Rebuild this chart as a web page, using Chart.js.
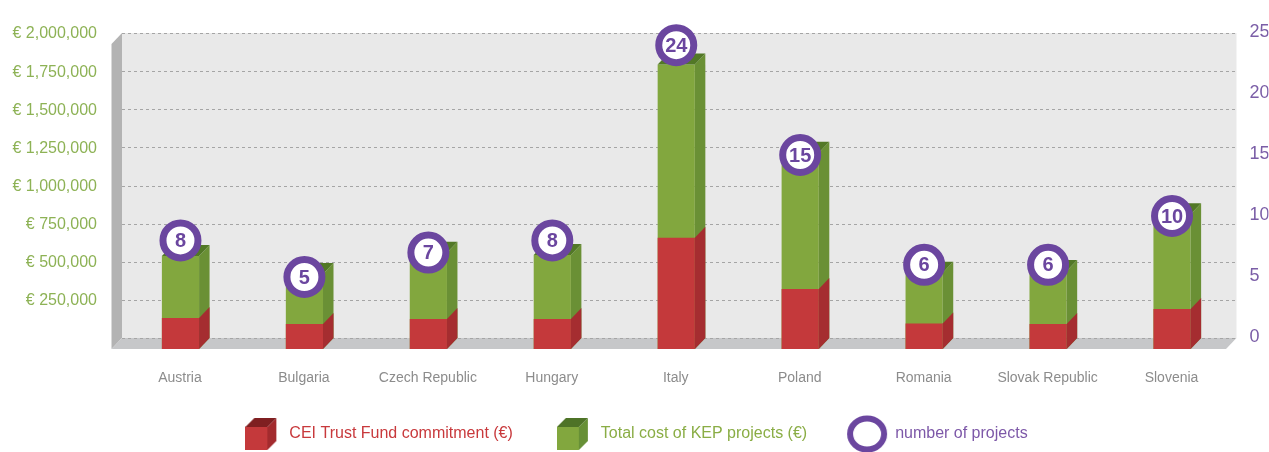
<!DOCTYPE html>
<html lang="en">
<head>
<meta charset="UTF-8">
<title>KEP projects by country</title>
<style>
    body { margin: 0; background: #fff; }
    canvas { display: block; }
</style>
<script src="https://cdn.jsdelivr.net/npm/chart.js"></script>
</head>
<body>
<canvas id="chart" width="1269" height="452"></canvas>
<script>
const countries = ['Austria', 'Bulgaria', 'Czech Republic', 'Hungary', 'Italy', 'Poland', 'Romania', 'Slovak Republic', 'Slovenia'];
const ceiCommitment = [203000, 164000, 197000, 197000, 730000, 393000, 168000, 164000, 262000];
const totalCost = [610000, 492000, 631000, 616000, 1865000, 1287000, 500000, 511000, 883000];
const projectCount = [8, 5, 7, 8, 24, 15, 6, 6, 10];
const legendNames = ['CEI Trust Fund commitment (€)', 'Total cost of KEP projects (€)', 'number of projects'];
const legendColors = ['#c8393c', '#8aad45', '#7d58a8'];

const FONT = "'Liberation Sans Narrow', 'Liberation Sans', sans-serif";
const DX = 10.5, DY = 11;   // depth of the fake 3d boxes

// little canvases used as legend icons
function cubeIcon(front, side, top) {
    const c = document.createElement('canvas');
    c.width = 32; c.height = 32;
    const g = c.getContext('2d');
    g.fillStyle = front;
    g.fillRect(0, 9, 22, 23);
    g.fillStyle = side;
    g.beginPath(); g.moveTo(22, 9); g.lineTo(31, 0); g.lineTo(31, 23); g.lineTo(22, 32); g.fill();
    g.fillStyle = top;
    g.beginPath(); g.moveTo(0, 9); g.lineTo(9, 0); g.lineTo(31, 0); g.lineTo(22, 9); g.fill();
    return c;
}
function ringIcon() {
    const c = document.createElement('canvas');
    c.width = 42; c.height = 38;
    const g = c.getContext('2d');
    g.strokeStyle = '#6b469f';
    g.lineWidth = 6;
    g.beginPath(); g.ellipse(21, 19, 17, 15.5, 0, 0, Math.PI * 2); g.stroke();
    return c;
}
const icons = [
    cubeIcon('#c4393b', '#a32b2e', '#7f1f21'),
    cubeIcon('#82a73e', '#679036', '#4e7327'),
    ringIcon()
];

const faces = [
    { side: '#a52d30', top: null },
    { side: '#6a9035', top: '#527826' }
];

// keep the axes from pushing the plot area around
function noPad(s) {
    s.paddingTop = 0; s.paddingBottom = 0; s.paddingLeft = 0; s.paddingRight = 0;
}

const box3d = {
    id: 'box3d',
    beforeDatasetsDraw(chart) {
        const { ctx, chartArea: a, scales: { y } } = chart;
        const L = a.left - 7, R = a.right - 8, T = a.top, B = a.bottom;
        ctx.save();
        ctx.fillStyle = '#e9e9e9';
        ctx.fillRect(L, T, R - L, B - T);
        // left wall
        ctx.fillStyle = '#b3b3b3';
        ctx.beginPath();
        ctx.moveTo(L, T); ctx.lineTo(L - DX, T + DY); ctx.lineTo(L - DX, B + DY); ctx.lineTo(L, B);
        ctx.fill();
        // floor
        ctx.fillStyle = '#c6c7c9';
        ctx.beginPath();
        ctx.moveTo(L, B); ctx.lineTo(R, B); ctx.lineTo(R - DX, B + DY); ctx.lineTo(L - DX, B + DY);
        ctx.fill();
        // dashed grid on the back wall
        ctx.strokeStyle = '#a5a5a5';
        ctx.lineWidth = 1;
        ctx.setLineDash([3, 3]);
        y.ticks.forEach(t => {
            const py = Math.round(y.getPixelForValue(t.value)) + 0.5;
            ctx.beginPath(); ctx.moveTo(L, py); ctx.lineTo(R, py); ctx.stroke();
        });
        ctx.restore();
    },
    beforeDatasetDraw(chart, args) {
        const ctx = chart.ctx;
        ctx.save();
        // front faces sit in front of the wall
        if (args.meta.type === 'bar') ctx.translate(-DX, DY);
        else ctx.translate(-DX, 0);
    },
    afterDatasetDraw(chart, args) {
        const ctx = chart.ctx;
        ctx.restore();
        const meta = args.meta;
        ctx.save();
        if (meta.type === 'bar') {
            const f = faces[args.index];
            meta.data.forEach(el => {
                const x1 = el.x - el.width / 2 - DX, x2 = el.x + el.width / 2 - DX;
                const top = el.y + DY, base = el.base + DY;
                ctx.fillStyle = f.side;
                ctx.beginPath();
                ctx.moveTo(x2, top); ctx.lineTo(x2 + DX, top - DY); ctx.lineTo(x2 + DX, base - DY); ctx.lineTo(x2, base);
                ctx.fill();
                if (f.top) {
                    ctx.fillStyle = f.top;
                    ctx.beginPath();
                    ctx.moveTo(x1, top); ctx.lineTo(x1 + DX, top - DY); ctx.lineTo(x2 + DX, top - DY); ctx.lineTo(x2, top);
                    ctx.fill();
                }
            });
        } else {
            ctx.fillStyle = '#6b469f';
            ctx.font = "bold 20px " + FONT;
            ctx.textAlign = 'center';
            ctx.textBaseline = 'middle';
            meta.data.forEach((el, i) => {
                ctx.fillText(String(projectCount[i]), el.x - DX, el.y + 1);
            });
        }
        ctx.restore();
    }
};

new Chart(document.getElementById('chart'), {
    type: 'bar',
    data: {
        labels: countries,
        datasets: [
            {
                label: legendNames[0],
                data: ceiCommitment,
                backgroundColor: '#c4393b',
                grouped: false,
                categoryPercentage: 1,
                barPercentage: 0.3,
                clip: false,
                order: 1
            },
            {
                label: legendNames[1],
                data: totalCost,
                backgroundColor: '#82a73e',
                grouped: false,
                categoryPercentage: 1,
                barPercentage: 0.3,
                clip: false,
                order: 2
            },
            {
                type: 'line',
                label: legendNames[2],
                data: projectCount,
                yAxisID: 'y1',
                showLine: false,
                pointRadius: 17.5,
                pointHoverRadius: 17.5,
                pointBorderWidth: 7,
                pointBackgroundColor: '#ffffff',
                pointBorderColor: '#6b469f',
                clip: false,
                order: 0
            }
        ]
    },
    options: {
        responsive: false,
        animation: false,
        devicePixelRatio: 1,
        events: [],
        layout: { padding: { top: 33, left: 0, right: 0, bottom: 0 } },
        scales: {
            x: {
                offset: true,
                grid: { display: false, drawTicks: false },
                border: { display: false },
                ticks: {
                    autoSkip: false,
                    maxRotation: 0,
                    padding: 32,
                    labelOffset: -11,
                    color: '#8c8c8c',
                    font: { family: FONT, size: 14 }
                },
                afterFit: s => { s.height = 48; noPad(s); }
            },
            y: {
                position: 'left',
                min: 0,
                max: 2000000,
                grid: { display: false, drawTicks: false },
                border: { display: false },
                ticks: {
                    stepSize: 250000,
                    padding: 32,
                    labelOffset: 1,
                    color: '#8db255',
                    font: { family: FONT, size: 16 },
                    callback: v => v === 0 ? '' : '€ ' + v.toLocaleString('en-US')
                },
                afterFit: s => { s.width = 129; noPad(s); }
            },
            y1: {
                position: 'right',
                min: 0,
                max: 25,
                grid: { display: false, drawTicks: false },
                border: { display: false },
                ticks: {
                    stepSize: 5,
                    padding: 5,
                    labelOffset: -1,
                    color: '#7b5ea7',
                    font: { family: FONT, size: 18 }
                },
                afterFit: s => { s.width = 24; noPad(s); }
            }
        },
        plugins: {
            tooltip: { enabled: false },
            legend: {
                position: 'bottom',
                onClick: null,
                labels: {
                    usePointStyle: true,
                    pointStyleWidth: 40,
                    padding: 40,
                    font: { family: FONT, size: 16 },
                    generateLabels: () => legendNames.map((text, i) => ({
                        text: text,
                        fontColor: legendColors[i],
                        pointStyle: icons[i],
                        datasetIndex: i,
                        hidden: false,
                        lineWidth: 0,
                        strokeStyle: 'rgba(0,0,0,0)',
                        fillStyle: 'rgba(0,0,0,0)'
                    }))
                }
            }
        }
    },
    plugins: [box3d]
});
</script>
</body>
</html>
